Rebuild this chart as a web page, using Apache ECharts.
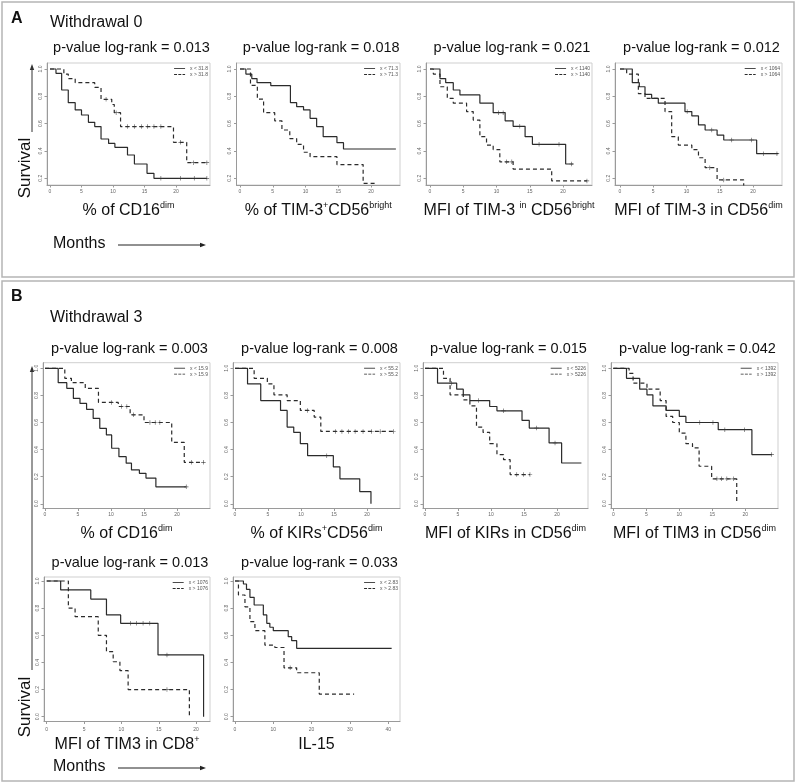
<!DOCTYPE html>
<html>
<head>
<meta charset="utf-8">
<script src="https://cdn.jsdelivr.net/npm/echarts/dist/echarts.min.js"></script>
<style>
html, body { margin: 0; padding: 0; background: #fff; }
#chart { width: 797px; height: 784px; }
</style>
</head>
<body>
<div id="chart"></div>
<script>
// Kaplan-Meier curves: [months, survival] at each step
// "Lo" = below cut-off (solid), "Hi" = above cut-off (dashed), "Cens" = censor times

var a1Lo = [[0,1],[0.95,0.968],[1.85,0.846],[2.9,0.753],[4.0,0.70],[5.0,0.663],[6.1,0.609],[7.1,0.578],[8.1,0.487],[9.3,0.455],[10.3,0.426],[12.3,0.37],[13.4,0.304],[15.4,0.236],[16.5,0.199],[24.9,0.199]];
var a1LoCens = [17.6, 20.7, 22.9, 24.9];
var a1Hi = [[0,1],[2.2,0.963],[2.9,0.93],[4.0,0.90],[7.1,0.866],[8.1,0.778],[9.8,0.74],[10.2,0.68],[11.2,0.578],[19.6,0.463],[21.7,0.314],[24.9,0.314]];
var a1HiCens = [8.9, 10.5, 12.3, 13.4, 14.5, 15.5, 16.5, 17.6, 20.7, 22.8, 24.9];

var a2Lo = [[0,1],[0.9,0.963],[1.8,0.93],[2.6,0.90],[4.7,0.878],[7.7,0.753],[8.65,0.724],[9.7,0.70],[10.7,0.639],[11.7,0.578],[12.7,0.504],[14.8,0.46],[15.8,0.414],[23.8,0.414]];
var a2LoCens = [];
var a2Hi = [[0,1],[1.6,0.88],[2.65,0.78],[3.6,0.68],[5.3,0.62],[6.4,0.553],[7.6,0.49],[8.65,0.448],[9.7,0.39],[10.7,0.358],[14.8,0.30],[18.8,0.162],[20.6,0]];
var a2HiCens = [];

var a3Lo = [[0,1],[1.5,0.93],[2.36,0.90],[3.5,0.846],[4.5,0.81],[7.5,0.75],[9.5,0.68],[11.3,0.62],[12.5,0.58],[14.3,0.504],[15.4,0.448],[20.4,0.304],[21.55,0.304]];
var a3LoCens = [10.3, 11.0, 13.5, 16.4, 19.4, 21.3];
var a3Hi = [[0,1],[0.5,0.963],[1.5,0.87],[2.6,0.785],[3.5,0.75],[5.5,0.688],[6.5,0.626],[7.5,0.504],[8.5,0.443],[9.5,0.41],[10.5,0.32],[12.5,0.267],[18.3,0.18],[23.6,0.18]];
var a3HiCens = [11.5, 12.3, 23.6];

var a4Lo = [[0,1],[1.85,0.90],[2.9,0.87],[3.76,0.814],[4.76,0.785],[5.76,0.75],[9.77,0.688],[10.8,0.656],[11.8,0.59],[12.8,0.553],[14.6,0.516],[15.6,0.48],[20.55,0.38],[23.8,0.38]];
var a4LoCens = [10.1, 13.8, 16.8, 19.8, 21.55, 23.6];
var a4Hi = [[0,1],[1.0,0.963],[2.76,0.82],[3.76,0.785],[6.77,0.688],[7.77,0.504],[8.77,0.443],[10.8,0.41],[11.8,0.35],[12.8,0.277],[14.6,0.187],[18.6,0]];
var a4HiCens = [13.5, 15.6];

var b1Lo = [[0,1],[2.0,0.894],[3.3,0.852],[4.3,0.778],[5.3,0.741],[6.3,0.697],[7.3,0.63],[8.3,0.557],[9.3,0.508],[10.1,0.41],[11.2,0.348],[12.3,0.30],[13.1,0.25],[14.3,0.225],[15.3,0.19],[16.8,0.125],[21.4,0.125]];
var b1LoCens = [21.4];
var b1Hi = [[0,1],[3.0,0.926],[4.0,0.894],[6.1,0.852],[8.1,0.748],[11.1,0.718],[12.9,0.657],[15.0,0.60],[19.2,0.453],[21.1,0.306],[24.0,0.306]];
var b1HiCens = [10.1, 11.6, 12.4, 13.4, 15.9, 16.7, 17.4, 22.2, 24.0];

var b2Lo = [[0,1],[1.9,0.885],[3.9,0.762],[6.9,0.689],[7.9,0.566],[8.9,0.527],[9.9,0.444],[11.0,0.355],[14.9,0.272],[15.9,0.184],[18.9,0.09],[20.6,0]];
var b2LoCens = [13.9];
var b2Hi = [[0,1],[2.9,0.926],[4.9,0.885],[5.9,0.804],[7.9,0.762],[9.9,0.689],[12.0,0.64],[13.0,0.534],[24.0,0.534]];
var b2HiCens = [11.0, 15.2, 16.2, 17.2, 18.2, 19.4, 20.7, 22.0, 24.0];

var b3Lo = [[0,1],[1.9,0.89],[4.8,0.846],[5.8,0.804],[6.8,0.762],[9.8,0.718],[10.9,0.686],[14.7,0.615],[15.8,0.559],[18.8,0.449],[20.7,0.301],[23.7,0.301]];
var b3LoCens = [4.0, 8.1, 11.9, 16.9, 19.7];
var b3Hi = [[0,1],[2.8,0.926],[3.8,0.804],[5.8,0.767],[6.8,0.723],[7.8,0.566],[8.8,0.527],[9.8,0.444],[10.9,0.363],[11.9,0.326],[12.9,0.216],[15.9,0.216]];
var b3HiCens = [13.9, 14.9, 15.9];

var b4Lo = [[0,1],[2.0,0.926],[4.0,0.846],[5.1,0.804],[6.0,0.723],[8.0,0.689],[10.0,0.645],[11.0,0.60],[15.9,0.547],[21.0,0.363],[24.0,0.363]];
var b4LoCens = [13.1, 15.1, 16.9, 19.9, 24.0];
var b4Hi = [[0,1],[2.4,0.963],[3.0,0.89],[5.1,0.846],[7.1,0.762],[8.0,0.645],[9.0,0.60],[10.0,0.522],[11.0,0.444],[12.0,0.412],[13.0,0.277],[14.9,0.184],[18.7,0]];
var b4HiCens = [15.7, 16.4, 17.2, 18.2];

var b5Lo = [[0,1],[1.87,0.934],[5.9,0.867],[8.0,0.75],[9.9,0.688],[14.9,0.455],[21.0,0]];
var b5LoCens = [11.2, 12.0, 12.9, 13.8, 16.1];
var b5Hi = [[0,1],[2.9,0.80],[3.8,0.737],[6.9,0.60],[8.0,0.48],[8.9,0.405],[9.8,0.34],[10.9,0.20],[19.1,0]];
var b5HiCens = [16.1];

var b6Lo = [[0,1],[2.2,0.978],[3.0,0.939],[3.9,0.88],[5.0,0.823],[7.4,0.75],[8.3,0.688],[9.1,0.659],[10.0,0.634],[13.9,0.59],[14.8,0.56],[16.1,0.504],[40.9,0.504]];
var b6LoCens = [];
var b6Hi = [[0,1],[0.9,0.897],[2.6,0.81],[3.9,0.70],[5.2,0.634],[7.8,0.528],[10.4,0.51],[12.8,0.36],[16.1,0.324],[22.0,0.167],[31.1,0.167]];
var b6HiCens = [14.4];

var cutoffs = ['31.8', '71.3', '1140', '1064', '15.9', '55.2', '5226', '1392', '1076', '2.83'];
var pValues = ['0.013', '0.018', '0.021', '0.012', '0.003', '0.008', '0.015', '0.042', '0.013', '0.033'];
var monthTicks = [0, 5, 10, 15, 20];
var monthTicksIL15 = [0, 10, 20, 30, 40];
var survTicks = [0, 0.2, 0.4, 0.6, 0.8, 1.0];

var xLabels = [
    '{m|% of CD16}{s|dim}',
    '{m|% of TIM-3}{s|+}{m|CD56}{s|bright}',
    '{m|MFI of TIM-3 }{s|in}{m| CD56}{s|bright}',
    '{m|MFI of TIM-3 in CD56}{s|dim}',
    '{m|% of CD16}{s|dim}',
    '{m|% of KIRs}{s|+}{m|CD56}{s|dim}',
    '{m|MFI of KIRs in CD56}{s|dim}',
    '{m|MFI of TIM3 in CD56}{s|dim}',
    '{m|MFI of TIM3 in CD8}{s|+}',
    '{m|IL-15}'
];

var FONT = '"Liberation Sans", Arial, sans-serif';

// panel placement: frame box [left, right, top, bottom] in px,
// px of month 0 and px per month, px of survival 1.0 and px per unit
var rowA = {y1: 69, ppuy: 136.5, top: 63, bottom: 185, titleY: 48, xlabY: 211, lab: 4.5};
var rowB1 = {y1: 368.3, ppuy: 135.5, top: 362.7, bottom: 508.5, titleY: 349, xlabY: 534, lab: 4};
var rowB2 = {y1: 581, ppuy: 135.7, top: 577, bottom: 721.5, titleY: 563, xlabY: 745, lab: 6};

var panels = [
    {lo: a1Lo, hi: a1Hi, loC: a1LoCens, hiC: a1HiCens, row: rowA, left: 47, right: 210, x0: 50, ppu: 6.3, ticks: monthTicks},
    {lo: a2Lo, hi: a2Hi, loC: a2LoCens, hiC: a2HiCens, row: rowA, left: 236.5, right: 400, x0: 240, ppu: 6.55, ticks: monthTicks},
    {lo: a3Lo, hi: a3Hi, loC: a3LoCens, hiC: a3HiCens, row: rowA, left: 426, right: 592, x0: 430, ppu: 6.65, ticks: monthTicks},
    {lo: a4Lo, hi: a4Hi, loC: a4LoCens, hiC: a4HiCens, row: rowA, left: 615, right: 782, x0: 620, ppu: 6.65, ticks: monthTicks},
    {lo: b1Lo, hi: b1Hi, loC: b1LoCens, hiC: b1HiCens, row: rowB1, left: 43, right: 210, x0: 45, ppu: 6.6, ticks: monthTicks},
    {lo: b2Lo, hi: b2Hi, loC: b2LoCens, hiC: b2HiCens, row: rowB1, left: 233, right: 400, x0: 235, ppu: 6.6, ticks: monthTicks},
    {lo: b3Lo, hi: b3Hi, loC: b3LoCens, hiC: b3HiCens, row: rowB1, left: 423, right: 588, x0: 425, ppu: 6.6, ticks: monthTicks},
    {lo: b4Lo, hi: b4Hi, loC: b4LoCens, hiC: b4HiCens, row: rowB1, left: 611, right: 778, x0: 613.3, ppu: 6.6, ticks: monthTicks},
    {lo: b5Lo, hi: b5Hi, loC: b5LoCens, hiC: b5HiCens, row: rowB2, left: 44, right: 210, x0: 46.7, ppu: 7.47, ticks: monthTicks},
    {lo: b6Lo, hi: b6Hi, loC: b6LoCens, hiC: b6HiCens, row: rowB2, left: 233, right: 400, x0: 235, ppu: 3.83, ticks: monthTicksIL15}
];

// censor marks sit on the curve at that time
function censorPoints(curve, times) {
    return times.map(function (t) {
        var s = curve[0][1];
        for (var i = 0; i < curve.length; i++) {
            if (curve[i][0] <= t) s = curve[i][1];
        }
        return [t, s];
    });
}

var plus = 'path://M-0.14,-1H0.14V-0.14H1V0.14H0.14V1H-0.14V0.14H-1V-0.14H-0.14Z';
var solidIcon = 'path://M0,0H13V1H0Z';
var dashIcon = 'path://M0,0H3.5V1H0Z M5,0H8.5V1H5Z M10,0H13V1H10Z';
var lineColor = '#2b2b2b';

var option = {
    animation: false,
    backgroundColor: '#ffffff',
    grid: [], xAxis: [], yAxis: [], series: [], legend: [],
    graphic: {elements: []}
};

var g = option.graphic.elements;

panels.forEach(function (p, i) {
    var r = p.row;
    option.grid.push({
        left: p.left, width: p.right - p.left, top: r.top, height: r.bottom - r.top,
        show: true, borderColor: '#cfcfcf', borderWidth: 1, backgroundColor: 'transparent'
    });
    option.xAxis.push({
        type: 'value', gridIndex: i,
        min: (p.left - p.x0) / p.ppu, max: (p.right - p.x0) / p.ppu,
        axisLine: {show: true, onZero: false, lineStyle: {color: '#9a9a9a', width: 1}},
        axisTick: {show: true, customValues: p.ticks, length: 2.5, lineStyle: {color: '#9a9a9a'}},
        axisLabel: {customValues: p.ticks, fontSize: 5, color: '#666', margin: r.lab, fontFamily: FONT},
        splitLine: {show: false}
    });
    option.yAxis.push({
        type: 'value', gridIndex: i,
        min: 1 - (r.bottom - r.y1) / r.ppuy, max: 1 + (r.y1 - r.top) / r.ppuy,
        axisLine: {show: true, onZero: false, lineStyle: {color: '#9a9a9a', width: 1}},
        axisTick: {show: true, customValues: survTicks, length: 2.5, lineStyle: {color: '#9a9a9a'}},
        axisLabel: {
            customValues: survTicks, fontSize: 5, color: '#666', rotate: 90, margin: 4, fontFamily: FONT,
            formatter: function (v) { return v.toFixed(1); }
        },
        splitLine: {show: false}
    });

    var loName = 'x < ' + cutoffs[i];
    var hiName = 'x > ' + cutoffs[i];
    option.series.push({
        name: loName, type: 'line', step: 'end', xAxisIndex: i, yAxisIndex: i,
        data: p.lo, symbol: 'none', lineStyle: {color: lineColor, width: 1.2},
        itemStyle: {color: lineColor}
    });
    option.series.push({
        name: hiName, type: 'line', step: 'end', xAxisIndex: i, yAxisIndex: i,
        data: p.hi, symbol: 'none', lineStyle: {color: lineColor, width: 1.2, type: [4, 3]},
        itemStyle: {color: lineColor}
    });
    option.series.push({
        type: 'scatter', xAxisIndex: i, yAxisIndex: i, data: censorPoints(p.lo, p.loC),
        symbol: plus, symbolSize: 4.5, itemStyle: {color: '#333'}, z: 3
    });
    option.series.push({
        type: 'scatter', xAxisIndex: i, yAxisIndex: i, data: censorPoints(p.hi, p.hiC),
        symbol: plus, symbolSize: 4.5, itemStyle: {color: '#333'}, z: 3
    });

    option.legend.push({
        data: [{name: loName, icon: solidIcon}, {name: hiName, icon: dashIcon}],
        orient: 'vertical', selectedMode: false,
        right: 797 - p.right + 2, top: r.top + 3, padding: 0,
        itemWidth: 11, itemHeight: 1.2, itemGap: 1,
        textStyle: {fontSize: 5, color: '#555', fontFamily: FONT}
    });

    var cx = (p.left + p.right) / 2;
    g.push({
        type: 'text', x: cx + 3, y: r.titleY,
        style: {text: 'p-value log-rank = ' + pValues[i], fill: '#111', fontSize: 14.5, fontFamily: FONT,
                align: 'center', verticalAlign: 'middle'}
    });
    g.push({
        type: 'text', x: cx, y: r.xlabY,
        style: {
            text: xLabels[i], align: 'center', verticalAlign: 'middle',
            rich: {
                m: {fontSize: 16, fontFamily: FONT, fill: '#111', lineHeight: 19},
                s: {fontSize: 9, fontFamily: FONT, fill: '#111', lineHeight: 10, verticalAlign: 'top'}
            }
        }
    });
});

// section frames, headings, axis captions with arrows
g.push({type: 'rect', shape: {x: 2, y: 2, width: 792, height: 275}, style: {fill: 'none', stroke: '#b5b5b5', lineWidth: 1.5}});
g.push({type: 'rect', shape: {x: 2, y: 281, width: 792, height: 500}, style: {fill: 'none', stroke: '#b5b5b5', lineWidth: 1.5}});

function label(txt, x, y, size, weight) {
    g.push({type: 'text', x: x, y: y, style: {text: txt, fill: '#111', fontSize: size, fontWeight: weight || 'normal',
            fontFamily: FONT, align: 'left', verticalAlign: 'middle'}});
}
label('A', 11, 19, 16, 'bold');
label('Withdrawal 0', 50, 23, 16);
label('B', 11, 297, 16, 'bold');
label('Withdrawal 3', 50, 318, 16);
label('Months', 53, 244, 16);
label('Months', 53, 767, 16);

function hArrow(y) {
    g.push({type: 'line', shape: {x1: 118, y1: y, x2: 201, y2: y}, style: {stroke: '#222', lineWidth: 1}});
    g.push({type: 'polygon', shape: {points: [[206, y], [200, y - 2.2], [200, y + 2.2]]}, style: {fill: '#222'}});
}
hArrow(245);
hArrow(768);

function survival(yc, yTop, yLineEnd) {
    g.push({type: 'text', x: 25, y: yc, rotation: Math.PI / 2,
            style: {text: 'Survival', fill: '#111', fontSize: 17, fontFamily: FONT, align: 'center', verticalAlign: 'middle'}});
    g.push({type: 'line', shape: {x1: 32, y1: yLineEnd, x2: 32, y2: yTop + 5}, style: {stroke: '#333', lineWidth: 1}});
    g.push({type: 'polygon', shape: {points: [[32, yTop], [29.8, yTop + 6], [34.2, yTop + 6]]}, style: {fill: '#333'}});
}
survival(168, 64, 132);
survival(707, 366, 670);

var chart = echarts.init(document.getElementById('chart'));
chart.setOption(option);
</script>
</body>
</html>
